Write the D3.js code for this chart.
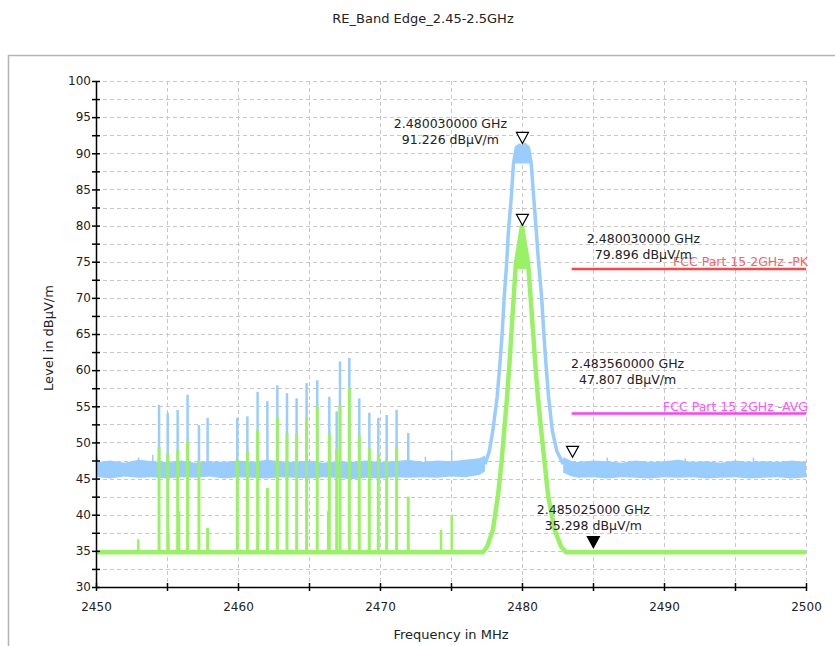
<!DOCTYPE html>
<html>
<head>
<meta charset="utf-8">
<script src="https://cdn.jsdelivr.net/npm/d3@7"></script>
<style>
  body { margin: 0; background: #fff; }
  text { font-family: "DejaVu Sans", Verdana, sans-serif; fill: #222; }
</style>
</head>
<body>
<svg id="chart" width="835" height="646"></svg>
<script>
// ---- data ----
var chartTitle = "RE_Band Edge_2.45-2.5GHz";
var xTitle = "Frequency in MHz";
var yTitle = "Level in dB\u00b5V/m";

var xTickValues = [2450, 2455, 2460, 2465, 2470, 2475, 2480, 2485, 2490, 2495, 2500];
var yTickValues = [30, 32.5, 35, 37.5, 40, 42.5, 45, 47.5, 50, 52.5, 55, 57.5, 60, 62.5,
                   65, 67.5, 70, 72.5, 75, 77.5, 80, 82.5, 85, 87.5, 90, 92.5, 95, 97.5, 100];

// peak trace noise floor, [MHz, low edge, high edge]
var blueFloorLeft = [
  [2450.0, 45.4, 48.4], [2450.2, 45.2, 47.3], [2451.0, 45.0, 47.5], [2452.0, 45.3, 47.2],
  [2453.0, 45.1, 47.6], [2454.0, 45.2, 47.4], [2455.0, 45.0, 47.3], [2456.0, 45.2, 47.5],
  [2457.0, 45.1, 47.2], [2458.0, 45.3, 47.4], [2459.0, 45.0, 47.3], [2460.0, 45.2, 47.5],
  [2461.0, 45.1, 47.3], [2462.0, 45.0, 47.6], [2463.0, 45.2, 47.4], [2464.0, 45.1, 47.3],
  [2465.0, 45.0, 47.5], [2466.0, 45.2, 47.2], [2467.0, 45.1, 47.4], [2468.0, 44.9, 47.3],
  [2469.0, 45.1, 47.5], [2470.0, 45.0, 47.3], [2471.0, 45.2, 47.4], [2472.0, 45.1, 47.6],
  [2473.0, 45.2, 47.3], [2474.0, 45.1, 47.5], [2475.0, 45.3, 47.4], [2476.0, 45.2, 47.6],
  [2477.0, 45.5, 47.8], [2477.4, 46.0, 48.2]
];
var blueFloorRight = [
  [2482.9, 45.8, 48.0], [2483.5, 45.3, 47.4], [2484.0, 45.1, 47.3], [2485.0, 45.2, 47.5],
  [2486.0, 45.0, 47.4], [2487.0, 45.2, 47.2], [2488.0, 45.1, 47.5], [2489.0, 45.0, 47.3],
  [2490.0, 45.2, 47.4], [2491.0, 45.1, 47.6], [2492.0, 45.2, 47.3], [2493.0, 45.0, 47.4],
  [2494.0, 45.1, 47.2], [2495.0, 45.2, 47.5], [2496.0, 45.0, 47.3], [2497.0, 45.1, 47.4],
  [2498.0, 45.2, 47.3], [2499.0, 45.0, 47.5], [2500.0, 45.2, 47.3]
];

// carrier, peak detector [MHz, dBuV/m]
var bluePeak = [
  [2477.4, 47.0], [2477.7, 48.8], [2477.95, 51.7], [2478.25, 56.3], [2478.45, 61.0],
  [2478.62, 65.6], [2478.75, 70.2], [2478.92, 74.8], [2479.05, 79.4], [2479.25, 84.0],
  [2479.4, 88.6], [2479.6, 90.8], [2479.85, 91.1], [2480.03, 90.4], [2480.2, 91.2],
  [2480.45, 90.8], [2480.65, 88.6], [2480.82, 84.0], [2481.0, 79.4], [2481.17, 74.8],
  [2481.38, 70.2], [2481.52, 65.6], [2481.68, 61.0], [2481.87, 56.3], [2482.13, 51.7],
  [2482.45, 48.8], [2482.9, 47.0]
];
var blueCap = [[2479.45, 88.6], [2479.6, 90.8], [2479.85, 91.1], [2480.2, 91.2], [2480.45, 90.8], [2480.6, 88.6]];

// average detector trace
var greenTrace = [
  [2450.0, 34.8], [2477.25, 34.8], [2477.55, 35.6], [2477.95, 37.9], [2478.3, 42.5],
  [2478.55, 47.1], [2478.75, 51.7], [2478.95, 56.3], [2479.12, 61.0], [2479.27, 65.6],
  [2479.42, 70.2], [2479.57, 74.8], [2479.77, 77.1], [2480.0, 79.9], [2480.23, 77.1],
  [2480.43, 74.8], [2480.6, 70.2], [2480.77, 65.6], [2480.93, 61.0], [2481.12, 56.3],
  [2481.35, 51.7], [2481.6, 47.1], [2481.85, 42.5], [2482.3, 37.9], [2482.75, 35.6],
  [2483.1, 34.8], [2500.0, 34.8]
];
var greenCap = [[2479.5, 74.0], [2479.77, 77.1], [2480.0, 79.9], [2480.23, 77.1], [2480.5, 74.0]];

// spurious lines: MHz, peak level, average level
var spurFreq = [2454.44, 2455.05, 2455.75, 2456.45, 2457.25, 2457.86, 2459.95, 2460.66, 2461.38,
                2462.07, 2462.77, 2463.45, 2464.13, 2464.83, 2465.58, 2466.43, 2466.95, 2467.18,
                2467.84, 2468.54, 2469.25, 2469.88, 2470.47, 2471.17, 2471.99];
var spurPeak = [55.2, 54.1, 54.5, 56.6, 52.4, 53.4, 53.4, 53.6, 57.0,
                55.7, 57.9, 56.8, 56.1, 58.2, 58.6, 56.3, 54.3, 61.2,
                61.7, 56.1, 54.1, 53.4, 53.8, 54.5, 51.3];
var spurAvg = [49.4, 48.5, 49.0, 50.1, 47.5, 38.2, 47.7, 48.8, 51.7,
               43.7, 53.4, 51.3, 51.3, 53.4, 55.0, 51.3, 49.0, 55.2,
               57.5, 51.0, 49.2, 48.3, 47.6, 49.4, 42.5];

// smaller blips
var blueBlips = [[2450.05, 48.4], [2453.0, 47.9], [2454.0, 48.3], [2473.2, 48.0], [2475.05, 49.0],
                 [2486.0, 47.9], [2491.5, 47.8], [2496.3, 47.9]];
var greenBlips = [[2452.98, 36.6], [2455.1, 37.3], [2455.85, 40.5], [2466.35, 40.5],
                  [2474.3, 37.9], [2475.05, 40.0]];

// limit lines
var limitNames = ["FCC Part 15 2GHz -PK", "FCC Part 15 2GHz -AVG"];
var limitLevels = [74, 54];
var limitFrom = [2483.5, 2483.5];
var limitTo = [2500, 2500];

// markers
var markerGHz = [2.48003, 2.48003, 2.48356, 2.485025];
var markerLevel = [91.226, 79.896, 47.807, 35.298];

// ---- layout / style ----
var plot = { left: 96, right: 806, top: 81, bottom: 587 };
var blueCol = "#99ccff", greenCol = "#99f266";
var limitCols = ["#ff4444", "#ff3cff"], limitTextCols = ["#ff6060", "#ff55ff"];
var markerFilled = [false, false, false, true];
var labelOffset = [[-72, -15], [121, 18], [55, -89], [0, -34]];   // px from marker to first label line

var x = d3.scaleLinear().domain([2450, 2500]).range([plot.left, plot.right]);
var y = d3.scaleLinear().domain([30, 100]).range([plot.bottom, plot.top]);
var svg = d3.select("#chart");
function px(v) { return Math.round(v) + 0.5; }

// outer frame
svg.append("rect").attr("x", 8.5).attr("y", 55.5).attr("width", 840).attr("height", 620)
  .attr("fill", "none").attr("stroke", "#b4b4b4").attr("stroke-width", 1.5);

svg.append("text").attr("x", 423).attr("y", 23).attr("text-anchor", "middle")
  .style("font-size", "13px").text(chartTitle);

// grid
var grid = svg.append("g").attr("stroke", "#c8c8c8").attr("stroke-dasharray", "4,3")
  .attr("shape-rendering", "crispEdges");
grid.selectAll(".gh").data(yTickValues).enter().append("line")
  .attr("x1", plot.left).attr("x2", plot.right)
  .attr("y1", function(d) { return px(y(d)); }).attr("y2", function(d) { return px(y(d)); });
grid.selectAll(".gv").data(xTickValues).enter().append("line")
  .attr("y1", plot.top).attr("y2", plot.bottom)
  .attr("x1", function(d) { return px(x(d)); }).attr("x2", function(d) { return px(x(d)); });

// peak trace (blue)
var band = d3.area().x(function(d) { return x(d[0]); })
  .y0(function(d) { return y(d[1]); }).y1(function(d) { return y(d[2]); });
var line = d3.line().x(function(d) { return x(d[0]); }).y(function(d) { return y(d[1]); });

var blue = svg.append("g");
blue.selectAll(".band").data([blueFloorLeft, blueFloorRight]).enter().append("path")
  .attr("d", band).attr("fill", blueCol);
blue.selectAll(".spur").data(spurFreq).enter().append("line")
  .attr("x1", function(d) { return x(d); }).attr("x2", function(d) { return x(d); })
  .attr("y1", y(46.2)).attr("y2", function(d, i) { return y(spurPeak[i]); })
  .attr("stroke", blueCol).attr("stroke-width", 2.5);
blue.selectAll(".blip").data(blueBlips).enter().append("line")
  .attr("x1", function(d) { return x(d[0]); }).attr("x2", function(d) { return x(d[0]); })
  .attr("y1", y(46.5)).attr("y2", function(d) { return y(d[1]); })
  .attr("stroke", blueCol).attr("stroke-width", 1.5);
blue.append("path").datum(bluePeak).attr("d", line).attr("fill", "none")
  .attr("stroke", blueCol).attr("stroke-width", 3.5).attr("stroke-linejoin", "round");
blue.append("path").datum(blueCap).attr("d", line).attr("fill", blueCol);

// average trace (green)
var green = svg.append("g");
green.selectAll(".spur").data(spurFreq).enter().append("line")
  .attr("x1", function(d) { return x(d); }).attr("x2", function(d) { return x(d); })
  .attr("y1", y(34.8)).attr("y2", function(d, i) { return y(spurAvg[i]); })
  .attr("stroke", greenCol).attr("stroke-width", 3);
green.selectAll(".blip").data(greenBlips).enter().append("line")
  .attr("x1", function(d) { return x(d[0]); }).attr("x2", function(d) { return x(d[0]); })
  .attr("y1", y(34.8)).attr("y2", function(d) { return y(d[1]); })
  .attr("stroke", greenCol).attr("stroke-width", 2.5);
green.append("path").datum(greenTrace).attr("d", line).attr("fill", "none")
  .attr("stroke", greenCol).attr("stroke-width", 4.5).attr("stroke-linejoin", "round");
green.append("path").datum(greenCap).attr("d", line).attr("fill", greenCol);

// limit lines
limitLevels.forEach(function(lv, i) {
  svg.append("line").attr("x1", x(limitFrom[i])).attr("x2", x(limitTo[i]))
    .attr("y1", y(lv)).attr("y2", y(lv))
    .attr("stroke", limitCols[i]).attr("stroke-width", 2.5);
  svg.append("text").attr("x", x(limitTo[i]) + 2).attr("y", y(lv) - 3)
    .attr("text-anchor", "end").style("font-size", "12.5px").style("fill", limitTextCols[i])
    .text(limitNames[i]);
});

// axes
var yAxis = d3.axisLeft(y).tickValues(yTickValues).tickSize(4).tickSizeOuter(0).tickPadding(1)
  .tickFormat(function(d) { return d % 5 === 0 ? d : ""; });
var gy = svg.append("g").attr("transform", "translate(" + plot.left + ",0)").call(yAxis);
var xAxis = d3.axisBottom(x).tickValues(xTickValues).tickSize(4).tickSizeOuter(0).tickPadding(11)
  .tickFormat(function(d) { return d % 10 === 0 ? d : ""; });
var gx = svg.append("g").attr("transform", "translate(0," + plot.bottom + ")").call(xAxis);
gy.selectAll(".tick line").attr("x1", 4);
gx.selectAll(".tick line").attr("y1", -4);
[gx, gy].forEach(function(g) {
  g.attr("font-family", null).attr("font-size", null).attr("color", "#000");
  g.selectAll("path, line").attr("stroke-width", 1.5);
  g.selectAll("text").style("font-size", "12px").style("fill", "#222");
});

svg.append("text").attr("x", (plot.left + plot.right) / 2).attr("y", 639).attr("text-anchor", "middle")
  .style("font-size", "13px").text(xTitle);
svg.append("text").attr("transform", "translate(53," + ((plot.top + plot.bottom) / 2 + 4) + ") rotate(-90)")
  .attr("text-anchor", "middle").style("font-size", "13px").text(yTitle);

// markers
markerGHz.forEach(function(f, i) {
  var mx = x(f * 1000), my = y(markerLevel[i]) - 1;
  svg.append("path")
    .attr("d", "M" + mx + "," + my + "l-6,-11h12z")
    .attr("fill", markerFilled[i] ? "#000" : "#fff").attr("stroke", "#000").attr("stroke-width", 1.2);
  var t = svg.append("text").attr("text-anchor", "middle").style("font-size", "12.5px");
  t.append("tspan").attr("x", mx + labelOffset[i][0]).attr("y", my + labelOffset[i][1])
    .text(d3.format(".9f")(f) + " GHz");
  t.append("tspan").attr("x", mx + labelOffset[i][0]).attr("y", my + labelOffset[i][1] + 16)
    .text(d3.format(".3f")(markerLevel[i]) + " dB\u00b5V/m");
});
</script>
</body>
</html>
